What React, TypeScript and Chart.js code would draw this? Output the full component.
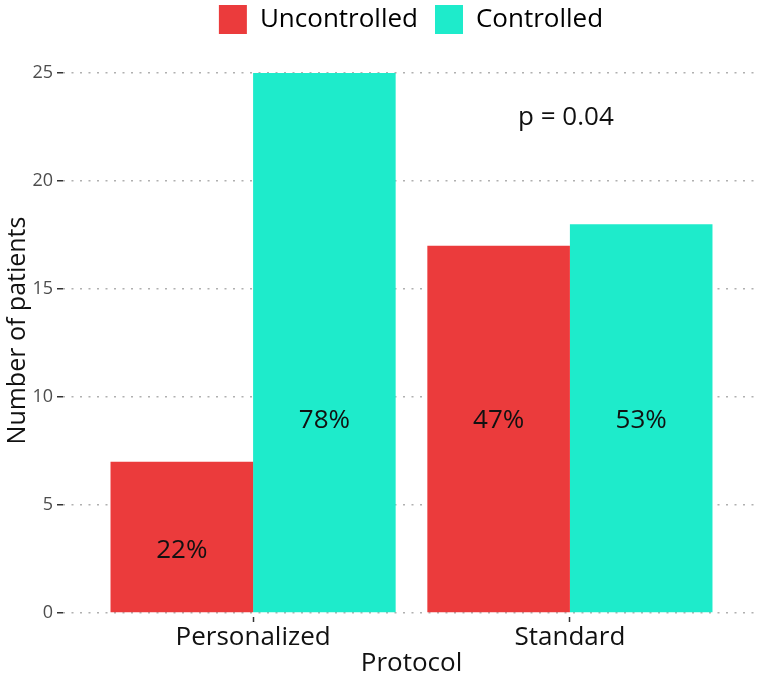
import { useEffect, useRef } from "react"
import { Chart, registerables } from "chart.js"

Chart.register(...registerables)

// Data
const protocols = ["Personalized", "Standard"]
const uncontrolled = [7, 17]
const controlled = [25, 18]
const uncontrolledPct = ["22%", "47%"]
const controlledPct = ["78%", "53%"]
const uncontrolledLabelY = [3, 9]
const controlledLabelY = [9, 9]
const yTicks = [0, 5, 10, 15, 20, 25]
const pValueText = "p = 0.04"
const pValuePos = { x: 2, y: 23 }

const RED = "#EB3B3C"
const CYAN = "#1EEBCB"
const FONT = "'Open Sans', 'Noto Sans', sans-serif"

// percent labels inside the bars + p-value annotation
const labelPlugin = {
  id: "barLabels",
  afterDatasetsDraw(chart: any) {
    const { ctx } = chart
    const y = chart.scales.y
    const x = chart.scales.x
    ctx.save()
    ctx.font = `26px ${FONT}`
    ctx.fillStyle = "#111111"
    ctx.textAlign = "center"
    ctx.textBaseline = "middle"
    const sets: [string[], number[]][] = [
      [uncontrolledPct, uncontrolledLabelY],
      [controlledPct, controlledLabelY],
    ]
    sets.forEach(([texts, ys], d) => {
      const meta = chart.getDatasetMeta(d)
      meta.data.forEach((bar: any, i: number) => {
        ctx.fillText(texts[i], bar.x, y.getPixelForValue(ys[i]) + 2)
      })
    })
    ctx.fillText(pValueText, x.getPixelForValue(pValuePos.x) - 4, y.getPixelForValue(pValuePos.y) + 1)
    ctx.restore()
  },
}

// ggplot puts the legend a bit right of the canvas centre
const legendShift = {
  id: "legendShift",
  afterLayout(chart: any) {
    if (chart.legend) {
      chart.legend.left += 31
      chart.legend.right += 31
    }
  },
}

export default function App() {
  const chartRef = useRef<HTMLCanvasElement>(null)
  const chartInstance = useRef<Chart | null>(null)

  useEffect(() => {
    document.body.style.margin = "0"
    if (!chartRef.current) return
    if (chartInstance.current) chartInstance.current.destroy()

    const ctx = chartRef.current.getContext("2d")
    if (!ctx) return

    chartInstance.current = new Chart(ctx, {
      type: "bar",
      data: {
        datasets: [
          {
            label: "Uncontrolled",
            data: protocols.map((_, i) => ({ x: i + 1, y: uncontrolled[i] })),
            backgroundColor: RED,
            borderWidth: 0,
          },
          {
            label: "Controlled",
            data: protocols.map((_, i) => ({ x: i + 1, y: controlled[i] })),
            backgroundColor: CYAN,
            borderWidth: 0,
          },
        ],
      },
      plugins: [labelPlugin, legendShift],
      options: {
        responsive: false,
        animation: false,
        categoryPercentage: 0.9,
        barPercentage: 1.0,
        layout: { padding: { top: -12, right: 0, left: 0, bottom: 0 } },
        plugins: {
          tooltip: { enabled: false },
          legend: {
            position: "top",
            labels: {
              boxWidth: 28,
              boxHeight: 29,
              padding: 17,
              color: "#000000",
              font: { family: FONT, size: 26 },
            },
          },
        },
        scales: {
          x: {
            type: "linear",
            min: 0.4,
            max: 2.6,
            offset: false,
            afterBuildTicks: (scale: any) => {
              scale.ticks = protocols.map((_, i) => ({ value: i + 1 }))
            },
            afterFit: (scale: any) => {
              scale.height = 62
            },
            ticks: {
              callback: (v: any) => protocols[Number(v) - 1],
              color: "#111111",
              font: { family: FONT, size: 26 },
              padding: 0,
              maxRotation: 0,
            },
            grid: {
              drawOnChartArea: false,
              drawTicks: true,
              tickLength: 5,
              tickColor: "#333333",
              tickWidth: 1.5,
              offset: false,
            },
            border: { display: false },
            title: {
              display: true,
              text: "Protocol",
              color: "#111111",
              font: { family: FONT, size: 26 },
              padding: { top: 0, bottom: 0 },
            },
          },
          y: {
            min: -0.185,
            max: 26.34,
            afterBuildTicks: (scale: any) => {
              scale.ticks = yTicks.map((v) => ({ value: v }))
            },
            afterFit: (scale: any) => {
              scale.width = 63
            },
            ticks: {
              color: "#4d4d4d",
              font: { family: FONT, size: 18 },
              padding: 4,
            },
            grid: {
              color: "#b0b0b0",
              lineWidth: 1.5,
              tickColor: "#333333",
              tickBorderDash: [],
              tickLength: 6,
              tickWidth: 1.5,
            },
            border: { display: false, dash: [2, 6.5] },
            title: {
              display: true,
              text: "Number of patients",
              color: "#111111",
              font: { family: FONT, size: 25 },
              padding: { top: 3, bottom: 0 },
            },
          },
        },
      },
    } as any)

    return () => {
      if (chartInstance.current) {
        chartInstance.current.destroy()
        chartInstance.current = null
      }
    }
  }, [])

  return (
    <div style={{ width: 760, height: 679, background: "#ffffff" }}>
      <canvas ref={chartRef} width={760} height={679} />
    </div>
  )
}
